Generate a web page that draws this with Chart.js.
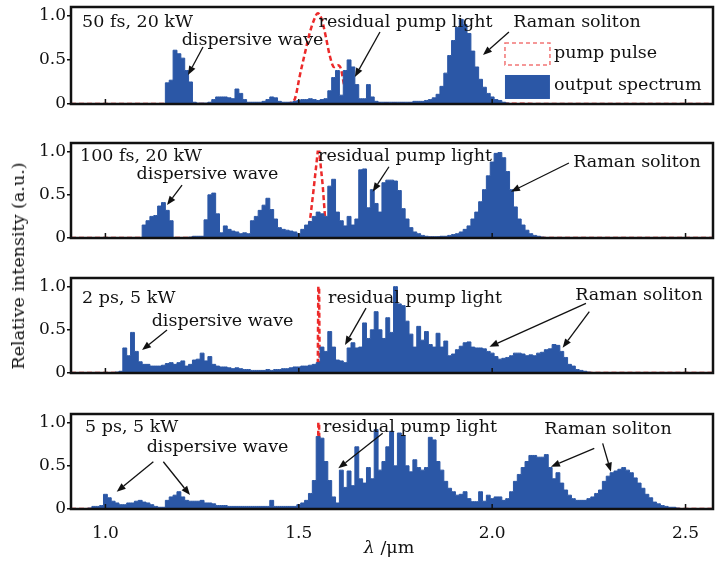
<!DOCTYPE html>
<html>
<head>
<meta charset="utf-8">
<script src="https://cdn.jsdelivr.net/npm/chart.js@4.4.1/dist/chart.umd.min.js"></script>
<style>
  body { margin: 0; background: #fff; }
  #wrap { position: relative; width: 716px; height: 561px; }
  #wrap canvas { position: absolute; left: 0; top: 0; }
  #ytitle {
    position: absolute; left: 18px; top: 266px;
    transform: translate(-50%, -50%) rotate(-90deg);
    font: 17.5px "DejaVu Serif"; color: #111; white-space: nowrap;
  }
</style>
</head>
<body>
<div id="wrap">
  <canvas id="p1" width="716" height="561"></canvas>
  <canvas id="p2" width="716" height="561"></canvas>
  <canvas id="p3" width="716" height="561"></canvas>
  <canvas id="p4" width="716" height="561"></canvas>
  <div id="ytitle">Relative intensity (a.u.)</div>
</div>
<script>
// wavelength samples (um) shared by the four spectra: 0.91 .. 2.57 every 0.01
const wlStart = 0.91, wlStep = 0.01, wlCount = 167;
const wl = [];
for (let i = 0; i < wlCount; i++) wl.push(+(wlStart + i * wlStep).toFixed(2));

const xTicks = [1.0, 1.5, 2.0, 2.5];
const yTicks = [0, 0.5, 1.0];

// output spectra, one row per 0.1 um starting at 0.91
const spec50fs = [
  0,0,0,0,0,0,0,0,0,0,
  0,0,0,0,0,0,0,0,0,0,
  0,0,0,0,0,0.24,0.27,0.61,0.57,0.52,
  0.38,0.25,0.02,0.01,0.01,0.01,0.02,0.05,0.08,0.08,
  0.08,0.07,0.06,0.17,0.12,0.05,0.02,0.02,0.02,0.02,
  0.03,0.05,0.08,0.07,0.03,0.02,0.02,0.02,0.03,0.04,
  0.05,0.05,0.06,0.05,0.04,0.05,0.06,0.15,0.3,0.38,
  0.1,0.38,0.5,0.42,0.22,0.06,0.06,0.22,0.08,0.03,
  0.02,0.02,0.02,0.02,0.02,0.02,0.02,0.02,0.02,0.03,
  0.03,0.03,0.04,0.05,0.07,0.11,0.2,0.35,0.55,0.72,
  0.87,0.96,0.9,0.8,0.6,0.42,0.28,0.19,0.12,0.08,
  0.05,0.04,0.02,0.01,0,0,0,0,0,0,
  0,0,0,0,0,0,0,0,0,0,
  0,0,0,0,0,0,0,0,0,0,
  0,0,0,0,0,0,0,0,0,0,
  0,0,0,0,0,0,0,0,0,0,
  0,0,0,0,0,0,0
];
const spec100fs = [
  0,0,0,0,0,0,0,0,0,0,
  0,0,0,0,0,0,0,0,0,0.15,
  0.2,0.25,0.26,0.37,0.41,0.32,0.2,0,0,0,
  0,0.01,0.02,0.02,0.02,0.21,0.5,0.52,0.28,0.06,
  0.14,0.1,0.08,0.07,0.05,0.06,0.05,0.2,0.25,0.32,
  0.38,0.46,0.33,0.22,0.12,0.1,0.09,0.08,0.07,0.05,
  0.1,0.15,0.19,0.25,0.3,0.28,0.25,0.6,0.68,0.3,
  0.2,0.14,0.25,0.15,0.22,0.79,0.8,0.35,0.56,0.4,
  0.3,0.64,0.67,0.67,0.66,0.55,0.34,0.22,0.12,0.07,
  0.05,0.03,0.02,0.015,0.015,0.015,0.02,0.02,0.03,0.04,
  0.05,0.07,0.1,0.14,0.22,0.3,0.42,0.56,0.72,0.88,
  0.98,0.99,0.93,0.77,0.56,0.36,0.22,0.15,0.09,0.05,
  0.03,0.02,0.01,0,0,0,0,0,0,0,
  0,0,0,0,0,0,0,0,0,0,
  0,0,0,0,0,0,0,0,0,0,
  0,0,0,0,0,0,0,0,0,0,
  0,0,0,0,0,0,0
];
const spec2ps = [
  0,0,0,0,0,0,0,0,0,0,
  0,0,0.01,0.02,0.29,0.2,0.47,0.25,0.13,0.1,
  0.1,0.08,0.08,0.08,0.09,0.11,0.12,0.1,0.12,0.14,
  0.08,0.1,0.15,0.16,0.23,0.14,0.19,0.1,0.08,0.07,
  0.07,0.06,0.05,0.06,0.05,0.04,0.04,0.03,0.03,0.03,
  0.03,0.04,0.03,0.04,0.04,0.05,0.05,0.06,0.07,0.07,
  0.08,0.08,0.09,0.1,0.12,0.3,0.25,0.48,0.3,0.15,
  0.14,0.12,0.29,0.35,0.29,0.3,0.58,0.4,0.5,0.71,
  0.5,0.4,0.64,0.47,1.0,0.8,0.78,0.6,0.45,0.3,
  0.54,0.38,0.48,0.33,0.3,0.46,0.3,0.37,0.2,0.22,
  0.27,0.31,0.35,0.36,0.3,0.29,0.29,0.28,0.25,0.23,
  0.19,0.16,0.17,0.18,0.2,0.23,0.23,0.22,0.2,0.21,
  0.2,0.23,0.24,0.27,0.28,0.33,0.32,0.25,0.18,0.1,
  0.08,0.04,0.03,0.02,0.01,0,0,0,0,0,
  0,0,0,0,0,0,0,0,0,0,
  0,0,0,0,0,0,0,0,0,0,
  0,0,0,0,0,0,0
];
const spec5ps = [
  0,0,0,0,0,0.01,0.03,0.03,0.04,0.17,
  0.13,0.09,0.07,0.05,0.05,0.07,0.07,0.09,0.1,0.08,
  0.07,0.05,0.03,0.02,0.02,0.1,0.14,0.16,0.2,0.14,
  0.1,0.09,0.09,0.09,0.1,0.07,0.07,0.06,0.04,0.04,
  0.04,0.03,0.03,0.03,0.03,0.03,0.03,0.03,0.03,0.03,
  0.03,0.03,0.1,0.03,0.03,0.03,0.03,0.03,0.03,0.05,
  0.07,0.1,0.18,0.33,0.84,0.82,0.55,0.33,0.14,0.07,
  0.45,0.25,0.44,0.27,0.72,0.35,0.3,0.48,0.35,0.92,
  0.45,0.55,0.72,0.9,0.5,0.88,0.85,0.5,0.43,0.57,
  0.48,0.45,0.48,0.83,0.8,0.55,0.45,0.32,0.24,0.2,
  0.16,0.17,0.2,0.12,0.085,0.085,0.2,0.09,0.16,0.12,
  0.14,0.14,0.1,0.12,0.2,0.32,0.4,0.48,0.55,0.62,
  0.62,0.6,0.6,0.63,0.48,0.35,0.42,0.3,0.22,0.16,
  0.12,0.1,0.1,0.1,0.12,0.14,0.18,0.22,0.32,0.38,
  0.42,0.44,0.46,0.48,0.45,0.42,0.36,0.3,0.24,0.17,
  0.13,0.08,0.06,0.04,0.03,0.02,0.02,0.01,0,0,
  0,0,0,0,0,0,0
];

// input pump pulses
const pump50fsX = [0.911, 1.464, 1.477, 1.490, 1.503, 1.516, 1.528, 1.539, 1.549, 1.560,
                   1.570, 1.580, 1.591, 1.601, 1.609, 1.617, 1.627, 1.638, 1.650, 2.571];
const pump50fsY = [0, 0, 0.01, 0.06, 0.33, 0.58, 0.8, 0.95, 1.03, 0.95,
                   0.76, 0.55, 0.42, 0.44, 0.40, 0.22, 0.1, 0.04, 0.01, 0];
const pump100fsX = [0.911, 1.520, 1.526, 1.538, 1.549, 1.553, 1.562, 1.568, 1.576, 2.571];
const pump100fsY = [0, 0, 0.09, 0.55, 1.0, 1.0, 0.6, 0.23, 0, 0];
const pumpPsX = [0.911, 1.549, 1.5505, 1.5525, 1.554, 2.571];
const pumpPsY = [0, 0, 1.0, 1.0, 0, 0];

const blue = '#2b57a6';
const red = '#ec2a2a';
const ink = '#111';
const font = { family: 'DejaVu Serif', size: 17 };
const noteFont = '17.5px "DejaVu Serif"';

// labels and arrows, placed in axis units (um, relative intensity)
const notes = {
  p1: {
    texts: [
      { text: '50 fs, 20 kW', x: 0.9397, y: 0.924, align: 'left' },
      { text: 'dispersive wave', x: 1.3803, y: 0.726, align: 'center' },
      { text: 'residual pump light', x: 1.776, y: 0.924, align: 'center' },
      { text: 'Raman soliton', x: 2.2193, y: 0.924, align: 'center' }
    ],
    arrows: [
      [1.2523, 0.646, 1.2136, 0.329],
      [1.7099, 0.816, 1.645, 0.306],
      [2.0434, 0.816, 1.9762, 0.556]
    ]
  },
  p2: {
    texts: [
      { text: '100 fs, 20 kW', x: 0.9344, y: 0.941, align: 'left' },
      { text: 'dispersive wave', x: 1.2639, y: 0.74, align: 'center' },
      { text: 'residual pump light', x: 1.7746, y: 0.945, align: 'center' },
      { text: 'Raman soliton', x: 2.3744, y: 0.874, align: 'center' }
    ],
    arrows: [
      [1.1981, 0.613, 1.1593, 0.382],
      [1.7332, 0.825, 1.6911, 0.536],
      [2.1985, 0.868, 2.0486, 0.536]
    ]
  },
  p3: {
    texts: [
      { text: '2 ps, 5 kW', x: 0.9397, y: 0.86, align: 'left' },
      { text: 'dispersive wave', x: 1.3028, y: 0.602, align: 'center' },
      { text: 'residual pump light', x: 1.8005, y: 0.868, align: 'center' },
      { text: 'Raman soliton', x: 2.3795, y: 0.903, align: 'center' }
    ],
    arrows: [
      [1.1593, 0.498, 1.0947, 0.266],
      [1.6738, 0.752, 1.6195, 0.324],
      [2.2425, 0.807, 1.9930, 0.304],
      [2.2512, 0.710, 2.1822, 0.293]
    ]
  },
  p4: {
    texts: [
      { text: '5 ps, 5 kW', x: 0.9473, y: 0.949, align: 'left' },
      { text: 'dispersive wave', x: 1.2898, y: 0.712, align: 'center' },
      { text: 'residual pump light', x: 1.7875, y: 0.95, align: 'center' },
      { text: 'Raman soliton', x: 2.2994, y: 0.926, align: 'center' }
    ],
    arrows: [
      [1.1239, 0.547, 1.0292, 0.2],
      [1.1497, 0.547, 1.2187, 0.162],
      [1.7169, 0.876, 1.6022, 0.471],
      [2.2640, 0.703, 2.1520, 0.49],
      [2.2857, 0.760, 2.3071, 0.432]
    ]
  }
};

// legend swatches inside the first panel
const legendX = [2.0331, 2.1494];
const legendTextX = 2.1598;
const legendRows = [
  { top: 0.692, bottom: 0.442, textY: 0.578 },
  { top: 0.329, bottom: 0.057, textY: 0.215 }
];

function drawArrow(ctx, x0, y0, x1, y1) {
  const ang = Math.atan2(y1 - y0, x1 - x0);
  const len = 9, half = 3.5;
  const bx = x1 - Math.cos(ang) * len, by = y1 - Math.sin(ang) * len;
  ctx.beginPath();
  ctx.moveTo(x0, y0);
  ctx.lineTo(bx, by);
  ctx.lineWidth = 1.3;
  ctx.stroke();
  ctx.beginPath();
  ctx.moveTo(x1, y1);
  ctx.lineTo(bx + Math.sin(ang) * half, by - Math.cos(ang) * half);
  ctx.lineTo(bx - Math.sin(ang) * half, by + Math.cos(ang) * half);
  ctx.closePath();
  ctx.fill();
}

const panelDecor = {
  id: 'panelDecor',
  afterDatasetsDraw(chart) {
    const { ctx, chartArea: a, scales: { x, y } } = chart;
    const id = chart.canvas.id;
    ctx.save();
    ctx.strokeStyle = ink;
    ctx.fillStyle = ink;

    // box round the plot and small inward ticks on the wavelength axis
    ctx.lineWidth = 2.5;
    ctx.strokeRect(a.left, a.top, a.right - a.left, a.bottom - a.top);
    ctx.lineWidth = 1.5;
    xTicks.forEach(v => {
      const px = x.getPixelForValue(v);
      ctx.beginPath();
      ctx.moveTo(px, a.bottom);
      ctx.lineTo(px, a.bottom - 5);
      ctx.stroke();
    });

    ctx.font = noteFont;
    ctx.textBaseline = 'middle';
    notes[id].texts.forEach(n => {
      ctx.textAlign = n.align;
      ctx.fillText(n.text, x.getPixelForValue(n.x), y.getPixelForValue(n.y));
    });
    notes[id].arrows.forEach(r => drawArrow(ctx,
      x.getPixelForValue(r[0]), y.getPixelForValue(r[1]),
      x.getPixelForValue(r[2]), y.getPixelForValue(r[3])));

    if (id === 'p1') {
      const ds = chart.data.datasets;
      const lx0 = x.getPixelForValue(legendX[0]), lx1 = x.getPixelForValue(legendX[1]);
      const r0 = legendRows[0], r1 = legendRows[1];
      ctx.setLineDash([4, 3]);
      ctx.lineWidth = 1.5;
      ctx.strokeStyle = 'rgba(236, 70, 70, 0.75)';
      ctx.strokeRect(lx0, y.getPixelForValue(r0.top), lx1 - lx0,
        y.getPixelForValue(r0.bottom) - y.getPixelForValue(r0.top));
      ctx.setLineDash([]);
      ctx.fillStyle = ds[0].backgroundColor;
      ctx.fillRect(lx0, y.getPixelForValue(r1.top), lx1 - lx0,
        y.getPixelForValue(r1.bottom) - y.getPixelForValue(r1.top));
      ctx.fillStyle = ink;
      ctx.textAlign = 'left';
      ctx.fillText(ds[1].label, x.getPixelForValue(legendTextX), y.getPixelForValue(r0.textY));
      ctx.fillText(ds[0].label, x.getPixelForValue(legendTextX), y.getPixelForValue(r1.textY));
    }

    if (id === 'p4') {
      // axis title: italic lambda, upright unit
      const lam = 'λ', unit = ' /μm';
      ctx.font = 'italic 17.5px "DejaVu Serif"';
      const w1 = ctx.measureText(lam).width;
      ctx.font = noteFont;
      const w2 = ctx.measureText(unit).width;
      const sx = (a.left + a.right) / 2 - 3 - (w1 + w2) / 2;
      const ty = a.bottom + 39;
      ctx.textAlign = 'left';
      ctx.font = 'italic 17.5px "DejaVu Serif"';
      ctx.fillText(lam, sx, ty);
      ctx.font = noteFont;
      ctx.fillText(unit, sx + w1, ty);
    }
    ctx.restore();
  }
};

const panels = [
  { id: 'p1', top: 7, bottom: 104, spec: spec50fs, pumpX: pump50fsX, pumpY: pump50fsY, smooth: true },
  { id: 'p2', top: 143, bottom: 238, spec: spec100fs, pumpX: pump100fsX, pumpY: pump100fsY, smooth: false },
  { id: 'p3', top: 278, bottom: 373, spec: spec2ps, pumpX: pumpPsX, pumpY: pumpPsY, smooth: false },
  { id: 'p4', top: 414, bottom: 509, spec: spec5ps, pumpX: pumpPsX, pumpY: pumpPsY, smooth: false }
];

panels.forEach((p, k) => {
  const last = k === panels.length - 1;
  const ctx = document.getElementById(p.id).getContext('2d');
  new Chart(ctx, {
    type: 'line',
    data: {
      datasets: [{
        label: 'output spectrum',
        data: wl.map((v, i) => ({ x: v, y: p.spec[i] })),
        stepped: 'middle',
        fill: 'origin',
        backgroundColor: blue,
        borderColor: blue,
        borderWidth: 1,
        pointRadius: 0
      }, {
        label: 'pump pulse',
        data: p.pumpX.map((v, i) => ({ x: v, y: p.pumpY[i] })),
        fill: false,
        borderColor: red,
        borderWidth: 2.5,
        borderDash: [5, 3],
        cubicInterpolationMode: p.smooth ? 'monotone' : 'default',
        pointRadius: 0
      }]
    },
    options: {
      responsive: false,
      animation: false,
      events: [],
      layout: { padding: { top: p.top, bottom: last ? 0 : 561 - p.bottom, left: 0, right: 3 } },
      plugins: { legend: { display: false }, tooltip: { enabled: false } },
      scales: {
        x: {
          type: 'linear',
          min: 0.911,
          max: 2.571,
          display: last,
          grid: { display: false },
          border: { display: false },
          afterBuildTicks: s => { s.ticks = xTicks.map(v => ({ value: v })); },
          afterFit: s => {
            if (last) { s.height = 52; s.paddingLeft = 0; s.paddingRight = 0; }
          },
          ticks: { font: font, color: ink, padding: 6, maxRotation: 0, callback: v => v.toFixed(1) }
        },
        y: {
          min: 0,
          max: 1.1,
          afterBuildTicks: s => { s.ticks = yTicks.map(v => ({ value: v })); },
          afterFit: s => { s.width = 71; s.paddingTop = 0; s.paddingBottom = 0; },
          grid: { drawOnChartArea: false, tickLength: 4, color: ink, lineWidth: 1.5 },
          border: { display: false },
          ticks: { font: font, color: ink, padding: 1, callback: v => (v === 0 ? '0' : v.toFixed(1)) }
        }
      }
    },
    plugins: [panelDecor]
  });
});
</script>
</body>
</html>
